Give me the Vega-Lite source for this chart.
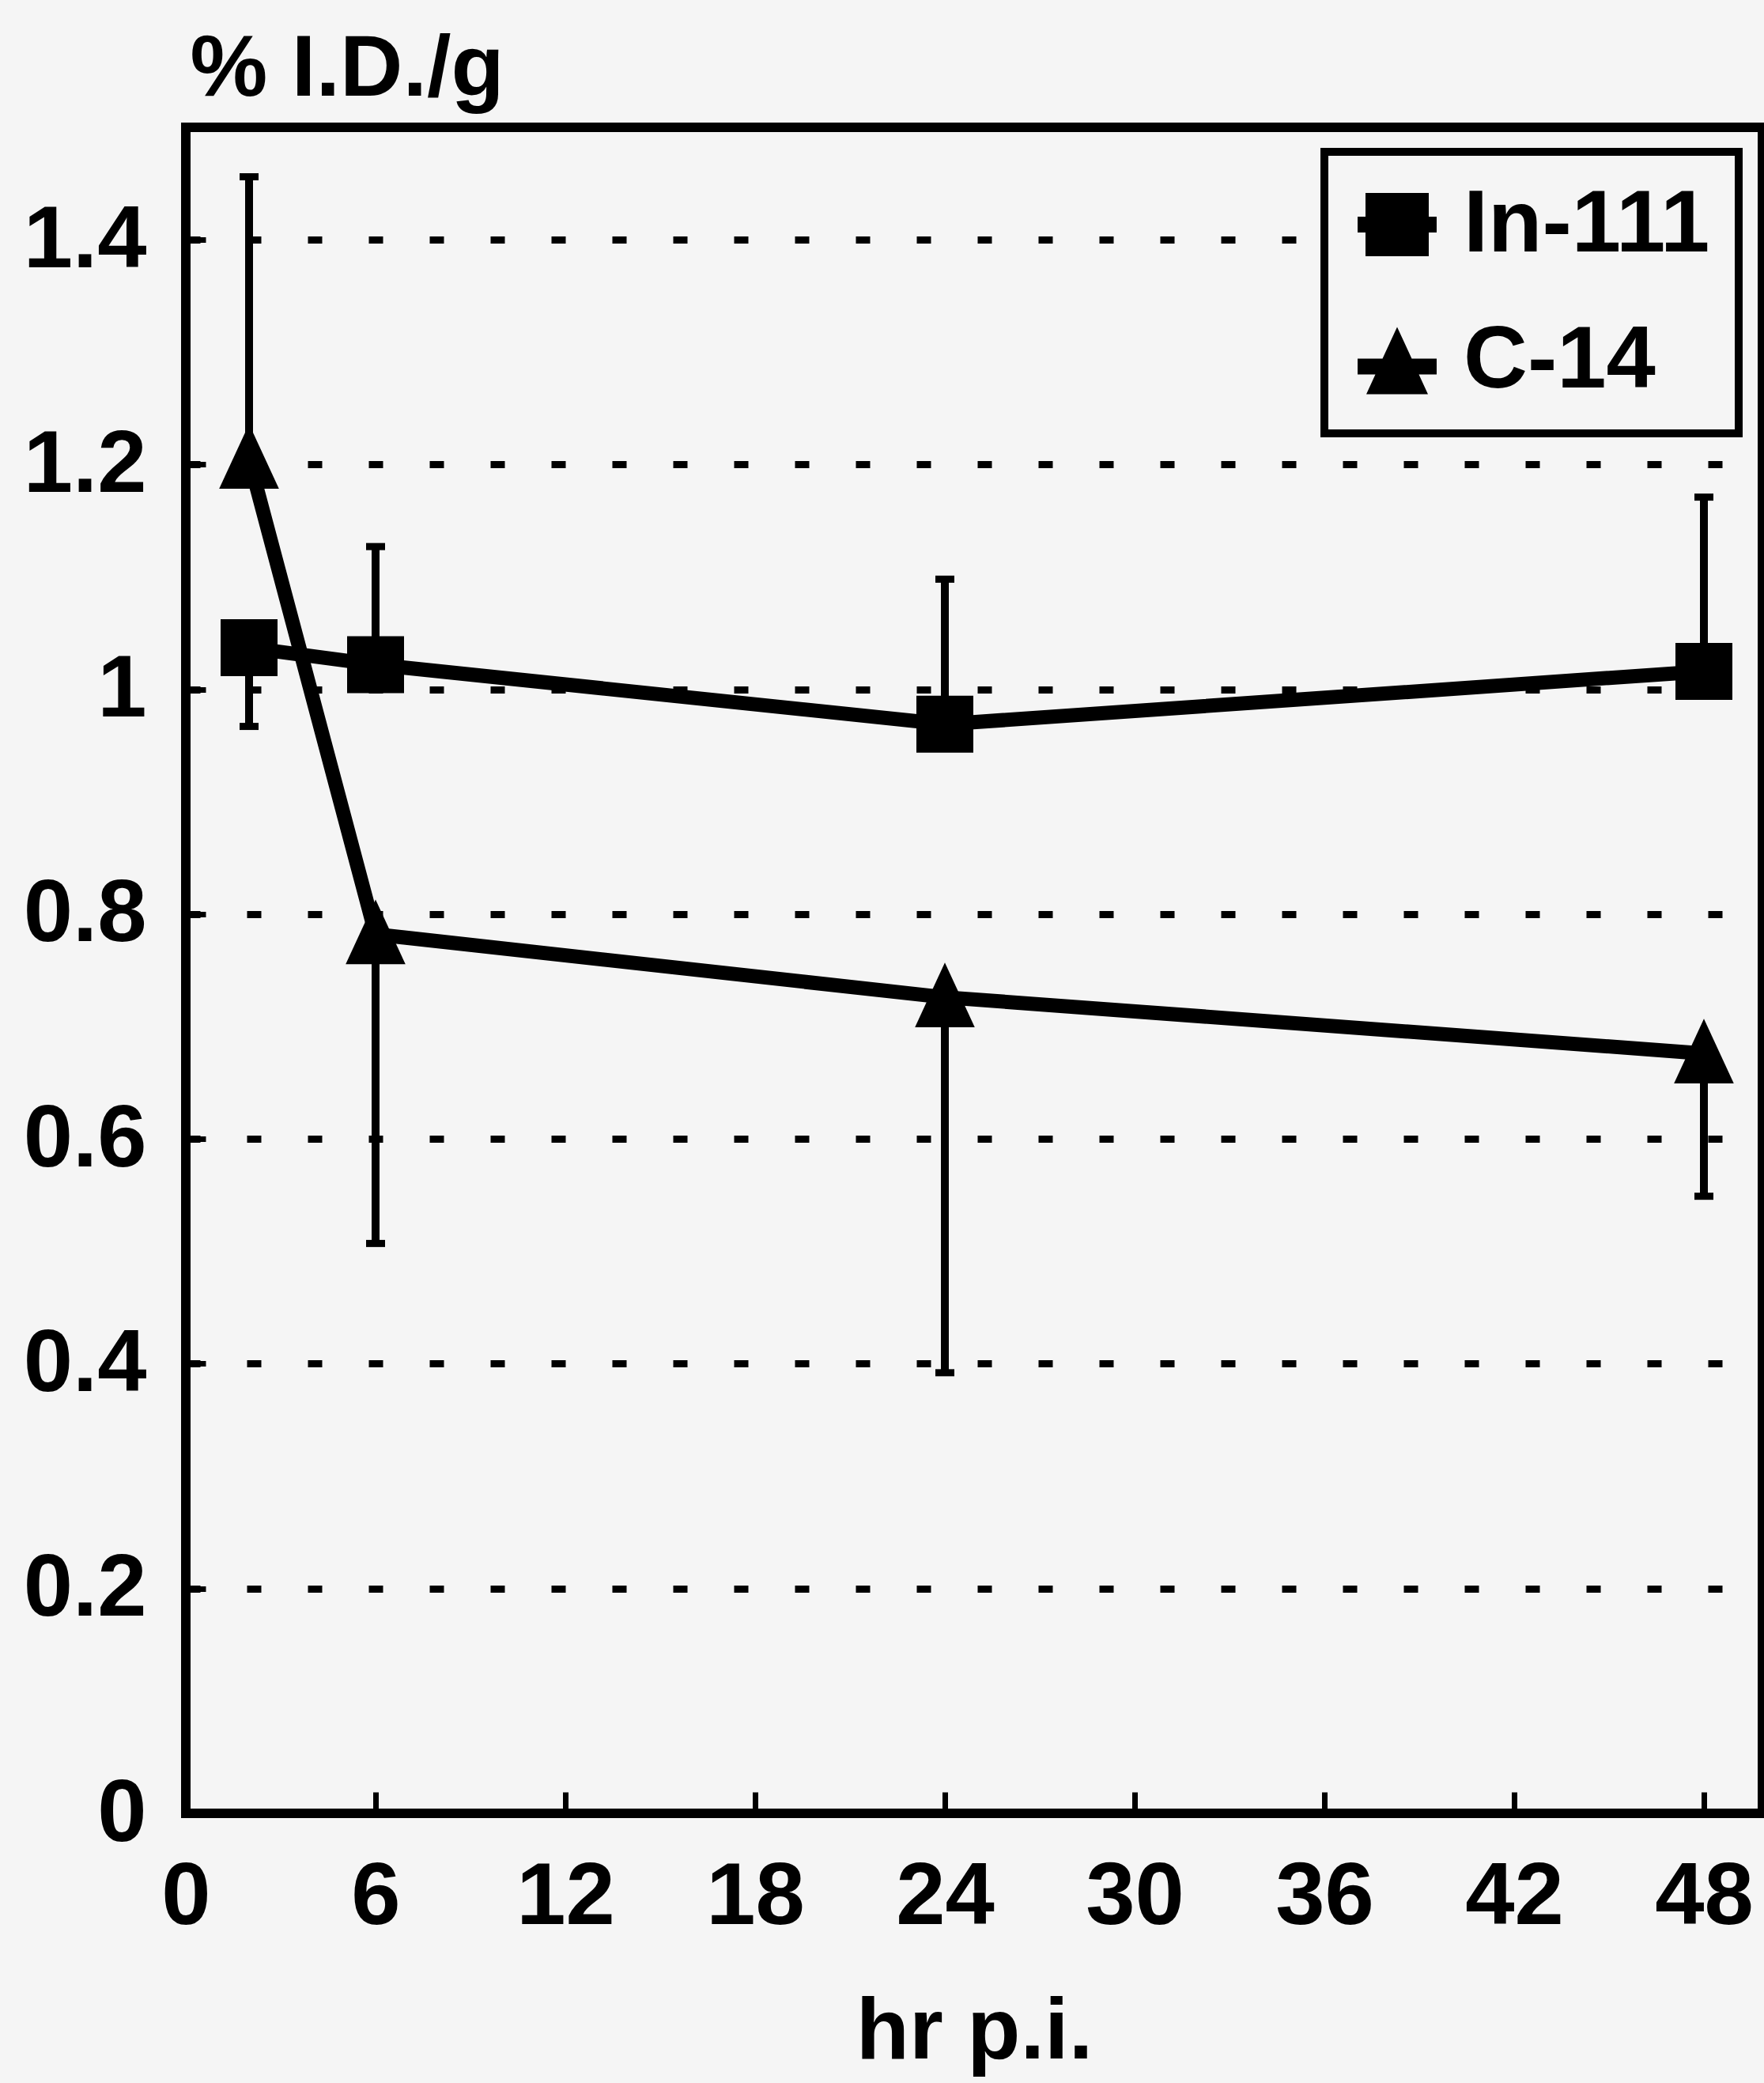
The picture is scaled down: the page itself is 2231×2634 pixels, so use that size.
{
  "$schema": "https://vega.github.io/schema/vega-lite/v6.json",
  "width": 1994,
  "height": 2132,
  "autosize": {"type": "none"},
  "padding": {"left": 235, "top": 161, "right": 2, "bottom": 341},
  "background": "#f5f5f5",
  "config": {
    "view": {"stroke": "#000", "strokeWidth": 12},
    "font": "Liberation Sans",
    "legend": {"strokeWidth": 10},
    "axis": {
      "labelFont": "Liberation Sans",
      "labelFontWeight": "bold",
      "labelFontSize": 112,
      "labelColor": "#000",
      "titleFont": "Liberation Sans",
      "titleFontWeight": "bold",
      "titleFontSize": 110,
      "titleColor": "#000",
      "domain": false,
      "tickColor": "#000",
      "labelLimit": 1000,
      "labelFlush": false,
      "labelOverlap": false
    }
  },
  "data": {
    "values": [
      {"series": "In-111", "t": 2, "v": 1.037, "e": 0.967},
      {"series": "In-111", "t": 6, "v": 1.022, "e": 1.127},
      {"series": "In-111", "t": 24, "v": 0.969, "e": 1.098},
      {"series": "In-111", "t": 48, "v": 1.016, "e": 1.171},
      {"series": "C-14", "t": 2, "v": 1.205, "e": 1.456},
      {"series": "C-14", "t": 6, "v": 0.782, "e": 0.507},
      {"series": "C-14", "t": 24, "v": 0.726, "e": 0.392},
      {"series": "C-14", "t": 48, "v": 0.676, "e": 0.549}
    ]
  },
  "layer": [
    {
      "mark": {"type": "rule", "strokeWidth": 10, "color": "#000"},
      "encoding": {
        "x": {
          "field": "t",
          "type": "quantitative",
          "scale": {"domain": [0, 49.85], "nice": false, "zero": false},
          "axis": {
            "values": [0, 6, 12, 18, 24, 30, 36, 42, 48],
            "format": "d",
            "tickSize": -27,
            "tickWidth": 7,
            "labelPadding": 78,
            "grid": false,
            "title": "hr p.i.",
            "titleX": 997,
            "titleY": 309,
            "titleAlign": "center",
            "titleBaseline": "alphabetic"
          }
        },
        "y": {
          "field": "v",
          "type": "quantitative",
          "scale": {"domain": [0, 1.5], "nice": false},
          "axis": {
            "values": [0, 0.2, 0.4, 0.6, 0.8, 1, 1.2, 1.4],
            "format": "~g",
            "tickSize": -25,
            "tickWidth": 7,
            "labelPadding": 75,
            "grid": true,
            "gridColor": "#000",
            "gridWidth": 9,
            "gridDash": [18, 59],
            "title": "% I.D./g",
            "titleAngle": 0,
            "titleX": 5,
            "titleY": -41,
            "titleAlign": "left",
            "titleBaseline": "alphabetic"
          }
        },
        "y2": {"field": "e"}
      }
    },
    {
      "mark": {"type": "tick", "orient": "horizontal", "size": 24, "thickness": 9, "color": "#000", "opacity": 1},
      "encoding": {
        "x": {"field": "t", "type": "quantitative"},
        "y": {"field": "e", "type": "quantitative"}
      }
    },
    {
      "mark": {"type": "line", "strokeWidth": 18, "color": "#000"},
      "encoding": {
        "x": {"field": "t", "type": "quantitative"},
        "y": {"field": "v", "type": "quantitative"},
        "detail": {"field": "series", "type": "nominal"}
      }
    },
    {
      "transform": [{"filter": "datum.series === 'In-111'"}],
      "mark": {"type": "point", "filled": true, "opacity": 1, "strokeWidth": 0, "size": 5184, "shape": "square"},
      "encoding": {
        "x": {"field": "t", "type": "quantitative"},
        "y": {"field": "v", "type": "quantitative"},
        "color": {
          "field": "series",
          "type": "nominal",
          "scale": {"domain": ["In-111", "C-14"], "range": ["#000000", "#000000"]},
          "legend": {
            "title": null,
            "orient": "none",
            "legendX": 1440,
            "legendY": 31,
            "padding": 36,
            "strokeColor": "#000",
            "fillColor": "#f5f5f5",
            "labelFont": "Liberation Sans",
            "labelFontWeight": "bold",
            "labelFontSize": 112,
            "labelColor": "#000",
            "labelOffset": 28,
            "labelLimit": 1000,
            "rowPadding": 60,
            "symbolSize": 10000,
            "symbolStrokeWidth": 0,
            "symbolOpacity": 1,
            "encode": {
              "symbols": {
                "update": {
                  "shape": {"signal": "datum.value === 'In-111' ? 'M-1,-0.2H-0.8V-0.8H0.8V-0.2H1V0.2H0.8V0.8H-0.8V0.2H-1Z' : 'M0,-0.85L0.37,-0.05H1V0.35H0.55L0.78,0.85H-0.78L-0.55,0.35H-1V-0.05H-0.37Z'"}
                }
              }
            }
          }
        }
      }
    },
    {
      "transform": [{"filter": "datum.series === 'C-14'"}],
      "mark": {"type": "point", "filled": true, "opacity": 1, "strokeWidth": 0, "size": 5184, "shape": "M0,-1.22L1.05,1.05L-1.05,1.05Z"},
      "encoding": {
        "x": {"field": "t", "type": "quantitative"},
        "y": {"field": "v", "type": "quantitative"},
        "color": {
          "field": "series",
          "type": "nominal",
          "scale": {"domain": ["In-111", "C-14"], "range": ["#000000", "#000000"]},
          "legend": {
            "title": null,
            "orient": "none",
            "legendX": 1440,
            "legendY": 31,
            "padding": 36,
            "strokeColor": "#000",
            "fillColor": "#f5f5f5",
            "labelFont": "Liberation Sans",
            "labelFontWeight": "bold",
            "labelFontSize": 112,
            "labelColor": "#000",
            "labelOffset": 28,
            "labelLimit": 1000,
            "rowPadding": 60,
            "symbolSize": 10000,
            "symbolStrokeWidth": 0,
            "symbolOpacity": 1,
            "encode": {
              "symbols": {
                "update": {
                  "shape": {"signal": "datum.value === 'In-111' ? 'M-1,-0.2H-0.8V-0.8H0.8V-0.2H1V0.2H0.8V0.8H-0.8V0.2H-1Z' : 'M0,-0.85L0.37,-0.05H1V0.35H0.55L0.78,0.85H-0.78L-0.55,0.35H-1V-0.05H-0.37Z'"}
                }
              }
            }
          }
        }
      }
    }
  ]
}
